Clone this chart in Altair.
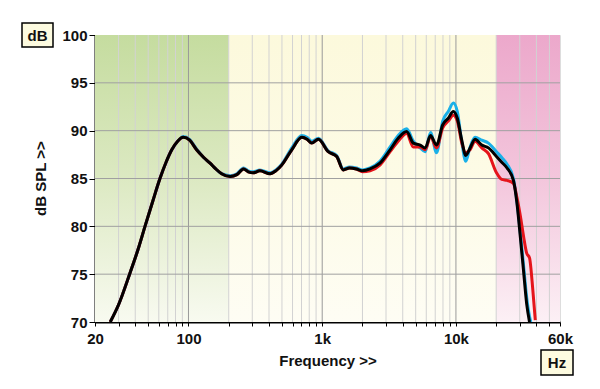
import altair as alt
import pandas as pd

# ---- data ----
freq = [26, 30, 36.5, 42, 47.3, 54, 61.2, 68, 75, 83, 91.5, 102, 115, 130, 145, 160, 177,
        205, 230, 258, 280, 305, 342, 408, 450, 498, 592, 704, 770, 835, 936, 1110, 1284,
        1438, 1600, 1800, 2000, 2280, 2700, 3220, 3700, 4280, 4800, 5400, 5890, 6460, 7160,
        7960, 8760, 9560, 10240, 11060, 11840, 12760, 13900, 15600, 17500, 20100, 22000,
        24100, 26900, 28600, 30300, 32000, 33800]

black = [70.0, 71.8, 75.1, 77.6, 80.0, 82.6, 85.0, 86.7, 88.0, 88.9, 89.3, 89.0, 88.0, 87.2,
         86.6, 86.0, 85.5, 85.2, 85.4, 86.0, 85.7, 85.6, 85.8, 85.5, 85.8, 86.4, 88.0, 89.3,
         89.1, 88.7, 89.1, 87.8, 87.3, 85.9, 86.1, 86.0, 85.8, 86.0, 86.6, 88.0, 89.2, 89.9,
         88.7, 88.5, 88.2, 89.5, 88.5, 90.6, 91.3, 92.0, 91.3, 89.0, 87.4, 88.2, 89.1, 88.5,
         88.2, 87.3, 86.7, 86.1, 84.8, 82.4, 78.9, 75.4, 71.9]

red = [70.0, 71.8, 75.1, 77.6, 80.0, 82.6, 85.0, 86.7, 88.0, 88.9, 89.3, 89.0, 88.0, 87.2,
       86.6, 86.0, 85.5, 85.2, 85.4, 86.0, 85.7, 85.6, 85.8, 85.5, 85.8, 86.4, 88.0, 89.3,
       89.1, 88.7, 89.1, 87.8, 87.3, 85.9, 86.1, 86.0, 85.7, 85.8, 86.4, 87.8, 88.9, 89.7,
       88.3, 88.3, 88.0, 89.4, 88.2, 90.3, 91.0, 91.6, 91.0, 88.7, 87.7, 88.0, 88.9, 88.2,
       87.6, 85.6, 84.9, 84.8, 84.5, 83.0, 81.1, 79.0, 77.2]

cyan = [70.0, 71.8, 75.1, 77.6, 80.0, 82.6, 85.0, 86.7, 88.0, 88.9, 89.4, 89.1, 88.1, 87.2,
        86.6, 86.0, 85.5, 85.3, 85.5, 86.1, 85.8, 85.7, 85.9, 85.6, 85.9, 86.5, 88.2, 89.5,
        89.3, 88.9, 89.2, 87.9, 87.4, 86.0, 86.2, 86.1, 85.9, 86.1, 86.8, 88.3, 89.5, 90.2,
        88.9, 88.2, 87.8, 89.8, 87.7, 91.0, 92.0, 92.9, 92.0, 88.8, 86.8, 88.3, 89.3, 89.0,
        88.7, 87.8, 87.2, 86.5, 85.0, 82.6, 79.3, 76.0, 72.6]

black_tail_f, black_tail = [35500], [70.0]
red_tail_f, red_tail = [35500, 37600, 39200], [76.7, 73.3, 70.2]
cyan_tail_f, cyan_tail = [35500, 36300], [70.6, 70.0]

band_start = [20, 200, 20000]
band_end = [200, 20000, 60000]

minor_grid = [30, 40, 50, 60, 70, 80, 90, 200, 300, 400, 500, 600, 700, 800, 900,
              2000, 3000, 4000, 5000, 6000, 7000, 8000, 9000, 20000, 30000, 40000, 50000]
major_grid = [100, 1000, 10000]
y_grid = [75, 80, 85, 90, 95]
x_ticks = [20] + minor_grid + major_grid + [60000]
y_ticks = [70, 75, 80, 85, 90, 95, 100]
x_labels = {20: "20", 100: "100", 1000: "1k", 10000: "10k", 60000: "60k"}

FONT = "Liberation Sans"
FS = 15

xscale = alt.Scale(type="log", domain=[20, 60000], nice=False)
yscale = alt.Scale(domain=[70, 100], nice=False, zero=False)

label_expr = " : ".join(f"datum.value == {k} ? '{v}'" for k, v in x_labels.items()) + " : ''"

xaxis = alt.Axis(values=x_ticks, labelExpr=label_expr, labelOverlap=False, labelFlush=False,
                 title="Frequency >>", grid=False, tickSize=4, tickColor="#000", tickWidth=1,
                 domainColor="#000", domainWidth=2, labelFont=FONT, labelFontSize=FS,
                 labelFontWeight="bold", labelColor="#111", labelPadding=5,
                 titleFont=FONT, titleFontSize=FS, titleFontWeight="bold", titleColor="#111",
                 titleY=38, titleBaseline="middle")
yaxis = alt.Axis(values=y_ticks, title="dB SPL >>", grid=False, tickSize=6, tickColor="#000",
                 tickWidth=1, domainColor="#000", domainWidth=2, labelFont=FONT,
                 labelFontSize=FS, labelFontWeight="bold", labelColor="#111", labelPadding=2,
                 titleFont=FONT, titleFontSize=FS, titleFontWeight="bold", titleColor="#111",
                 titleX=-55, titleY=143, titleAngle=270, titleAlign="center",
                 titleBaseline="middle")

def X(field):
    return alt.X(field, type="quantitative", scale=xscale, axis=xaxis)

def Y(field):
    return alt.Y(field, type="quantitative", scale=yscale, axis=yaxis)

bands = pd.DataFrame({"x0": band_start, "x1": band_end})

def grad(top, mid, bottom):
    return alt.Gradient(gradient="linear", x1=0, x2=0, y1=0, y2=1,
                        stops=[alt.GradientStop(color=top, offset=0),
                               alt.GradientStop(color=mid, offset=0.5),
                               alt.GradientStop(color=bottom, offset=1)])

band_fills = [grad("#c5dc9f", "#dce9c2", "#f8faf0"),
              grad("#fcf9dc", "#fdfbe6", "#fefdf4"),
              grad("#eca8cb", "#f3c6dc", "#fcf0f5")]

band_layers = [
    alt.Chart(bands.iloc[[i]]).mark_rect(fill=band_fills[i], stroke=None)
    .encode(x=X("x0"), x2="x1")
    for i in range(3)
]

minor_df = pd.DataFrame({"f": minor_grid})
major_df = pd.DataFrame({"f": major_grid})
ygrid_df = pd.DataFrame({"db": y_grid})

minor_rules = alt.Chart(minor_df).mark_rule(color="#d2d2d2", strokeWidth=1).encode(x=X("f"))
major_rules = alt.Chart(major_df).mark_rule(color="#9a9a9a", strokeWidth=1).encode(x=X("f"))
y_rules = alt.Chart(ygrid_df).mark_rule(color="#a0a0a0", strokeWidth=1).encode(y=Y("db"))

def series_df(vals, tf, tv):
    return pd.DataFrame({"f": freq + tf, "db": vals + tv})

def line(df, color, w):
    return alt.Chart(df).mark_line(color=color, strokeWidth=w, interpolate="monotone",
                                   clip=True).encode(x=X("f"), y=Y("db"))

cyan_line = line(series_df(cyan, cyan_tail_f, cyan_tail), "#1ab0e8", 3)
red_line = line(series_df(red, red_tail_f, red_tail), "#e5141b", 3)
black_line = line(series_df(black, black_tail_f, black_tail), "#000000", 3)

one = pd.DataFrame({"k": [0]})
db_box = alt.Chart(one).mark_rect(fill="#fdfbe0", stroke="#000", strokeWidth=1.5).encode(
    x=alt.value(-73), x2=alt.value(-42), y=alt.value(-12), y2=alt.value(12))
db_text = alt.Chart(one).mark_text(text="dB", font=FONT, fontSize=FS, fontWeight="bold",
                                   color="#111", baseline="middle", align="center").encode(
    x=alt.value(-57.5), y=alt.value(0.5))
hz_box = alt.Chart(one).mark_rect(fill="#fdfbe0", stroke="#000", strokeWidth=1.5).encode(
    x=alt.value(446), x2=alt.value(478), y=alt.value(315), y2=alt.value(340))
hz_text = alt.Chart(one).mark_text(text="Hz", font=FONT, fontSize=FS, fontWeight="bold",
                                   color="#111", baseline="middle", align="center").encode(
    x=alt.value(462), y=alt.value(328))

chart = alt.layer(
    *band_layers, minor_rules, major_rules, y_rules,
    cyan_line, red_line, black_line,
    db_box, db_text, hz_box, hz_text,
).properties(
    width=465, height=287,
    autosize=alt.AutoSizeParams(type="none"),
    padding={"left": 87, "top": 27, "right": 30, "bottom": 59},
).configure_view(stroke="#000", strokeWidth=2).configure(background="#ffffff")

chart.save("out.html", embed_options={"renderer": "svg", "actions": False})
